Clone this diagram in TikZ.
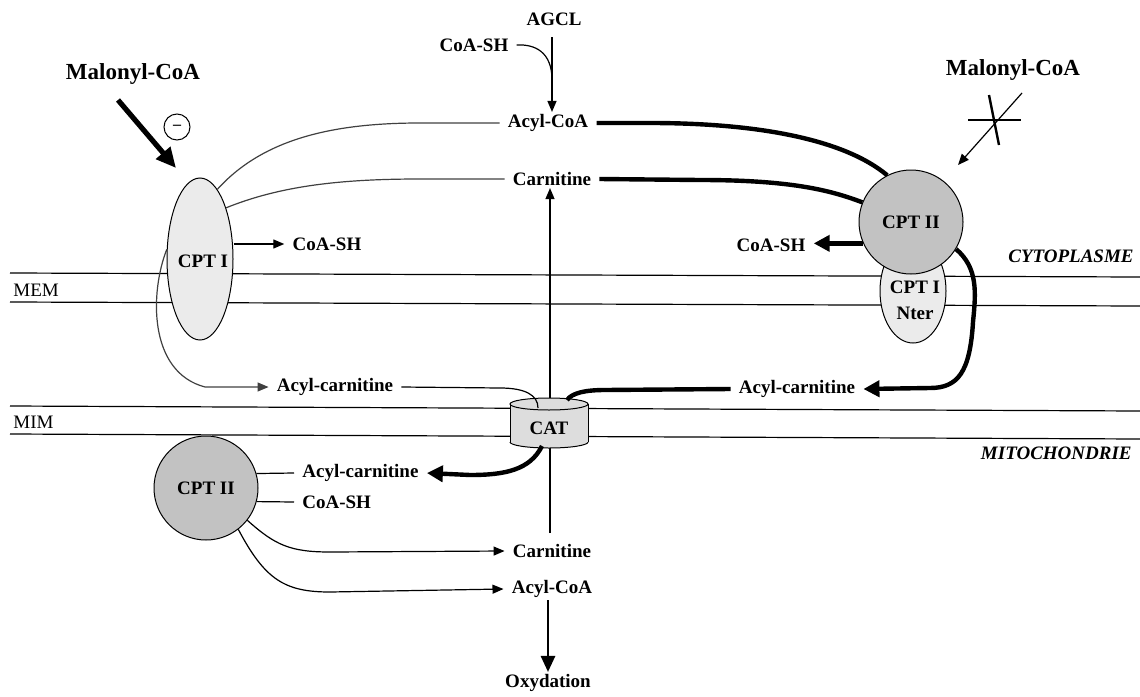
\documentclass[tikz,border=0pt]{standalone}
\usepackage{fontspec}
\setmainfont{Liberation Serif}
\usetikzlibrary{arrows.meta,shapes.geometric,backgrounds,calc}
\definecolor{lightfill}{HTML}{EBEBEB}
\definecolor{darkfill}{HTML}{C2C2C2}
\definecolor{catfill}{HTML}{DDDDDD}
\begin{document}
\begin{tikzpicture}[x=0.5pt,y=-0.5pt,
  lbl/.style={font=\bfseries\fontsize{9.5}{13}\selectfont, inner xsep=4pt, inner ysep=1pt},
  big/.style={font=\bfseries\fontsize{11.5}{13}\selectfont},
  side/.style={font=\fontsize{9.5}{11}\selectfont, inner sep=1pt},
  zone/.style={font=\bfseries\itshape\fontsize{9.5}{11}\selectfont, inner sep=1pt},
  thinl/.style={line width=0.6pt, black!75},
  thinarr/.style={line width=0.6pt, -{Triangle[length=5.5pt,width=4.5pt]}},
  fat/.style={line width=2.2pt},
  fatarr/.style={line width=2.2pt, -{Triangle[length=8pt,width=8pt]}},
  mline/.style={line width=0.6pt},
  enzlight/.style={ellipse, draw, line width=0.5pt, fill=lightfill, inner sep=0pt},
  enzdark/.style={circle, draw, line width=0.5pt, fill=darkfill, inner sep=0pt, minimum size=52pt},
]
\useasboundingbox (0,0) rectangle (1140,696);

% ---------- text nodes ----------
\node[lbl] (agcl) at (554,19) {AGCL};
\node[lbl] (coash1) at (474,45) {CoA-SH};
\node[lbl] (acylcoa) at (548,123) {Acyl-CoA};
\node[lbl] (carn) at (552,179) {Carnitine};
\node[big] (mal1) at (133,74) {Malonyl-CoA};
\node[big] (mal2) at (1013,70) {Malonyl-CoA};
\node[lbl] (coash2) at (327,244) {CoA-SH};
\node[lbl] (coash3) at (771,245) {CoA-SH};
\node[lbl] (acar1) at (335,387) {Acyl-carnitine};
\node[lbl] (acar2) at (797,389) {Acyl-carnitine};
\node[lbl, anchor=west] (acar3) at (294,473) {Acyl-carnitine};
\node[lbl, anchor=west] (coash4) at (294,502) {CoA-SH};
\node[lbl] (carn2) at (552,551) {Carnitine};
\node[lbl] (acylcoa2) at (552,589) {Acyl-CoA};
\node[lbl] (oxy) at (548,683) {Oxydation};
\node[side, anchor=west] (mem) at (11,290) {MEM};
\node[side, anchor=west] (mim) at (11,422) {MIM};
\node[zone, anchor=east] (cyto) at (1136,256) {CYTOPLASME};
\node[zone, anchor=east] (mito) at (1134,453) {MITOCHONDRIE};

% ---------- enzymes ----------
\node[enzlight, minimum width=33pt, minimum height=81pt] (cpt1) at (200,259) {};
\node[lbl] (cpt1l) at (203,261) {CPT I};
\node[enzlight, minimum width=33pt, minimum height=52pt] (nter) at (913,291) {};
\node[lbl, align=center] (nterl) at (915,300) {CPT I\\Nter};
\node[enzdark, font=\bfseries\fontsize{9.5}{11}\selectfont] (cpt2r) at (911,222) {CPT II};
\node[enzdark, font=\bfseries\fontsize{9.5}{11}\selectfont] (cpt2l) at (206,488) {CPT II};

% ---------- free ends ----------
\coordinate (m1s) at (118,100);
\coordinate (m1t) at (176,168);
\coordinate (m2s) at (1022,93);
\coordinate (m2t) at (958,165);
\coordinate (vbot) at (550,533);
\coordinate (cattopR) at (567,400);
\coordinate (cattopL) at (538,408);
\coordinate (catbot) at (542,446);

% ---------- background: membranes and lines behind shapes ----------
\begin{pgfonlayer}{background}
  \coordinate (memaL) at (10,273); \coordinate (memaR) at (1140,277);
  \coordinate (membL) at (10,302); \coordinate (membR) at (1140,306);
  \coordinate (mimaL) at (10,406); \coordinate (mimaR) at (1140,411);
  \coordinate (mimbL) at (10,434); \coordinate (mimbR) at (1140,439);
  \draw[mline] (memaL) -- (memaR);
  \draw[mline] (membL) -- (membR);
  \draw[mline] (mimaL) -- (mimaR);
  \draw[mline] (mimbL) -- (mimbR);
  % carnitine return through CAT
  \draw[thinarr] (vbot) -- (vbot |- carn.south);
  % CPT I curves
  \draw[thinl] (cpt1.76) .. controls (262,140) and (330,123) .. (420,123) -- (acylcoa.west);
  \draw[thinl] (cpt1.63) .. controls (280,186) and (340,179) .. (420,179) -- (carn.west);
  \draw[thinl, -{Triangle[length=5.5pt,width=4.5pt]}] (cpt1.164) .. controls (150,292) and (148,372) .. (205,387) -- (acar1.west);
\end{pgfonlayer}

% ---------- CAT transporter ----------
\fill[catfill] (510,404) rectangle (588,442);
\fill[catfill] (549,442) ellipse [x radius=19.5pt, y radius=3pt];
\draw[line width=0.5pt] (510,404) -- (510,442);
\draw[line width=0.5pt] (588,404) -- (588,442);
\begin{scope}
  \clip (505,442) rectangle (595,452);
  \draw[line width=0.5pt] (549,442) ellipse [x radius=19.5pt, y radius=3pt];
\end{scope}
\filldraw[fill=catfill, line width=0.5pt] (549,404) ellipse [x radius=19.5pt, y radius=3pt];
\node[lbl] (cat) at (549,428) {CAT};

% ---------- top: AGCL ----------
\draw[thinarr] (552,37) -- (552,0 |- acylcoa.north);
\draw[line width=0.6pt] (coash1.east) .. controls (535,44) and (552,52) .. (552,80);

% ---------- CPT I side ----------
\draw[line width=2.6pt, -{Triangle[length=10pt,width=9pt]}] (m1s) -- (m1t);
\node[circle, draw, line width=0.5pt, minimum size=13pt, inner sep=0pt] (minus) at (177,127) {\fontsize{8}{8}\selectfont\bfseries --};
\draw[thinarr] (cpt1.east |- coash2) -- (coash2.west);

% ---------- CPT II (cytoplasmic) side ----------
\draw[fat] (acylcoa.east) -- (650,123) .. controls (760,123) and (845,140) .. (cpt2r.117);
\draw[fat] (carn.east) -- (700,180) .. controls (790,180) and (830,190) .. (cpt2r.158);
\draw[fatarr] (cpt2r.204) -- (cpt2r.204 -| coash3.east);
\draw[fatarr] (cpt2r.329) .. controls (978,268) and (976,292) .. (973,322) .. controls (970,372) and (958,388) .. (930,388) -- (acar2.east);
\draw[line width=0.6pt, -{Triangle[length=5.5pt,width=4.5pt]}] (m2s) -- (m2t);
\coordinate (xa1) at (968,120); \coordinate (xa2) at (1021,120);
\coordinate (xb1) at (989,95); \coordinate (xb2) at (999,145);
\draw[line width=1.2pt] (xa1) -- (xa2);
\draw[line width=1.2pt] (xb1) -- (xb2);

% ---------- through CAT ----------
\draw[fat] (acar2.west) -- (605,390) .. controls (585,390) and (572,393) .. (cattopR);
\draw[line width=0.6pt] (acar1.east) -- (500,388) .. controls (525,388) and (538,395) .. (cattopL);
\draw[fatarr] (catbot) .. controls (530,470) and (505,475) .. (470,475) -- (acar3.east);

% ---------- mitochondrial CPT II ----------
\draw[line width=0.6pt] (cpt2l.16) -- (acar3.west);
\draw[line width=0.6pt] (cpt2l.-15) -- (coash4.west);
\draw[thinarr] (cpt2l.-38) .. controls (275,545) and (290,552) .. (330,552) -- (carn2.west);
\draw[thinarr] (cpt2l.-52) .. controls (265,580) and (285,592) .. (330,592) -- (acylcoa2.west);
\draw[line width=1.3pt, -{Triangle[length=8pt,width=7pt]}] (oxy.north |- acylcoa2.south) -- (oxy.north);
\end{tikzpicture}
\end{document}
